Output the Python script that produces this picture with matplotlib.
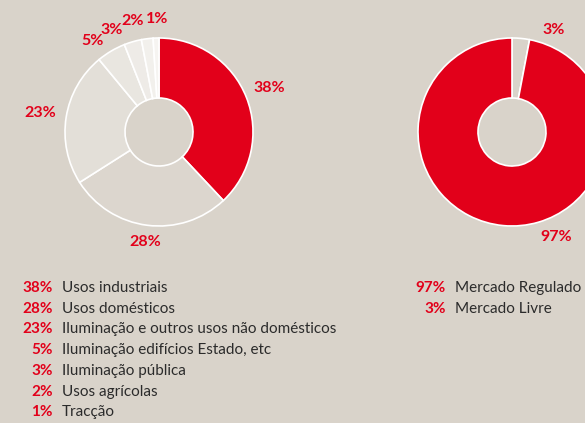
import matplotlib
matplotlib.use("Agg")
import numpy as np
import matplotlib.pyplot as plt

# ── data ───────────────────────────────────────────────────────────────────
uses_pct = [38, 28, 23, 5, 3, 2, 1]
uses_labels = [
    "Usos industriais",
    "Usos domésticos",
    "Iluminação e outros usos não domésticos",
    "Iluminação edifícios Estado, etc",
    "Iluminação pública",
    "Usos agrícolas",
    "Tracção",
]
market_pct = [3, 97]
market_labels = ["Mercado Livre", "Mercado Regulado"]
market_legend_order = [1, 0]

# ── style ──────────────────────────────────────────────────────────────────
BG = "#d9d3ca"
RED = "#e2001a"
TXT = "#2b2b2b"
uses_colours = [RED, "#dcd6ce", "#e3dfd8", "#e9e6e0", "#eeebe7", "#f2f0ec", "#f6f4f1"]
market_colours = [BG, RED]

plt.rcParams["font.family"] = ["Lato", "DejaVu Sans"]

W, H = 585, 423
fig = plt.figure(figsize=(W / 100, H / 100), dpi=100, facecolor=BG)
ax = fig.add_axes([0, 0, 1, 1])
ax.set_facecolor(BG)

R = 94
HOLE = 34
c_left = (159, H - 132)
c_right = (512, H - 132)


def donut(values, colours, centre):
    wedges, _ = ax.pie(values, colors=colours, startangle=90, counterclock=False,
                       radius=R, center=centre, frame=True,
                       wedgeprops=dict(width=R - HOLE, edgecolor="white", linewidth=1.2))
    return wedges


def label_wedges(wedges, values, centre, radii, angles):
    for w, v, rf, ang in zip(wedges, values, radii, angles):
        if ang is None:
            ang = (w.theta1 + w.theta2) / 2
        a = np.deg2rad(ang)
        ax.text(centre[0] + rf * R * np.cos(a), centre[1] + rf * R * np.sin(a),
                f"{v}%", color=RED, fontsize=11.5, fontweight="bold",
                ha="center", va="center")


wl = donut(uses_pct, uses_colours, c_left)
label_wedges(wl, uses_pct, c_left,
             [1.26, 1.18, 1.28, 1.2, 1.2, 1.21, 1.2],
             [None, None, None, 126, 115, 103.5, 91])

wr = donut(market_pct, market_colours, c_right)
label_wedges(wr, market_pct, c_right, [1.17, 1.21], [67.6, -67])

# ── legends ────────────────────────────────────────────────────────────────
step = 20.7
for i, (p, lab) in enumerate(zip(uses_pct, uses_labels)):
    y = H - 288 - i * step
    ax.text(53, y, f"{p}%", color=RED, fontsize=11, fontweight="bold",
            ha="right", va="center")
    ax.text(62, y, lab, color=TXT, fontsize=11, ha="left", va="center")

for i, k in enumerate(market_legend_order):
    y = H - 288 - i * step
    ax.text(446, y, f"{market_pct[k]}%", color=RED, fontsize=11,
            fontweight="bold", ha="right", va="center")
    ax.text(455, y, market_labels[k], color=TXT, fontsize=11,
            ha="left", va="center")

ax.set_xlim(0, W)
ax.set_ylim(0, H)
ax.set_aspect("auto")
ax.axis("off")

fig.savefig("out.png", dpi=100, facecolor=BG)
